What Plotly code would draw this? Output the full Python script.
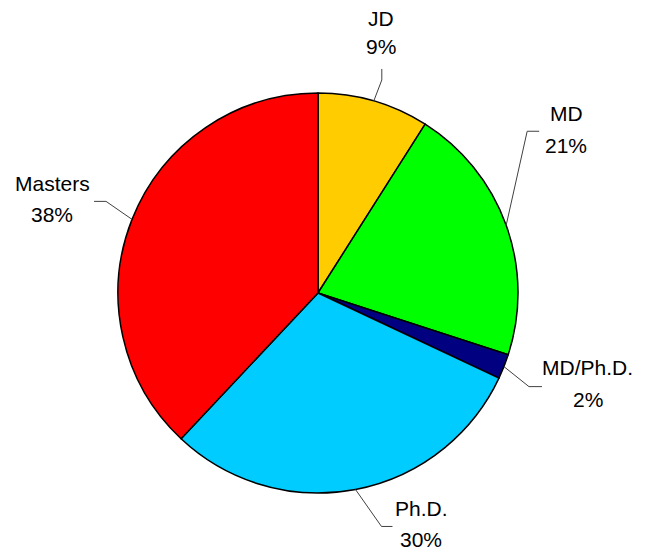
import math
import plotly.graph_objects as go

# ---- data ----
categories = ["JD", "MD", "MD/Ph.D.", "Ph.D.", "Masters"]
values = [9, 21, 2, 30, 38]
colors = ["#FFCC00", "#00FF00", "#000080", "#00CCFF", "#FF0000"]

# ---- layout geometry (pixels on the page, y down) ----
W, H = 646, 552
PAGE_OFF = 8  # default body margin of the html page
CX, CY, R = 318, 293, 200
FONT = dict(family="Liberation Sans, Arial, sans-serif", size=21, color="black")

# label layout offsets relative to the slice's edge point (pixels, y down)
# (elbow dx, elbow dy, end dx, end dy, text dx, name dy, pct dy)
label_offsets = [
    (8, -21, 8, -32, 7, -82, -54),
    (21, -94, 33, -94, 60, -112, -80),
    (25, 20, 38, 20, 84, 1, 33),
    (26, 37, 37, 37, 66, 19, 50),
    (-26, -18, -38, -18, -80, -36, -5),
]


def px(x):
    return (x - PAGE_OFF) / W


def py(y):
    return 1 - (y - PAGE_OFF) / H


fig = go.Figure(
    go.Pie(
        labels=categories,
        values=values,
        sort=False,
        direction="clockwise",
        rotation=0,
        textinfo="none",
        hoverinfo="label+percent",
        marker=dict(colors=colors, line=dict(color="black", width=1.5)),
        domain=dict(x=[px(CX - R), px(CX + R)], y=[py(CY + R), py(CY - R)]),
        showlegend=False,
    )
)

total = sum(values)
cum = 0
shapes = []
annotations = []
for cat, v, off in zip(categories, values, label_offsets):
    mid = (cum + v / 2) / total * 360
    cum += v
    a = math.radians(mid)
    ex, ey = CX + R * math.sin(a), CY - R * math.cos(a)
    edx, edy, ndx, ndy, tdx, nmy, pcy = off
    shapes.append(
        dict(
            type="path",
            xref="paper",
            yref="paper",
            path=f"M {px(ex)},{py(ey)} L {px(ex + edx)},{py(ey + edy)} L {px(ex + ndx)},{py(ey + ndy)}",
            line=dict(color="#404040", width=1),
        )
    )
    pct = round(v / total * 100)
    for txt, dy in ((cat, nmy), (f"{pct}%", pcy)):
        annotations.append(
            dict(
                x=px(ex + tdx),
                y=py(ey + dy),
                xref="paper",
                yref="paper",
                text=txt,
                showarrow=False,
                xanchor="center",
                yanchor="middle",
                font=FONT,
            )
        )

fig.update_layout(
    width=W,
    height=H,
    margin=dict(l=0, r=0, t=0, b=0),
    paper_bgcolor="white",
    plot_bgcolor="white",
    shapes=shapes,
    annotations=annotations,
)

fig.write_html("out.html")
